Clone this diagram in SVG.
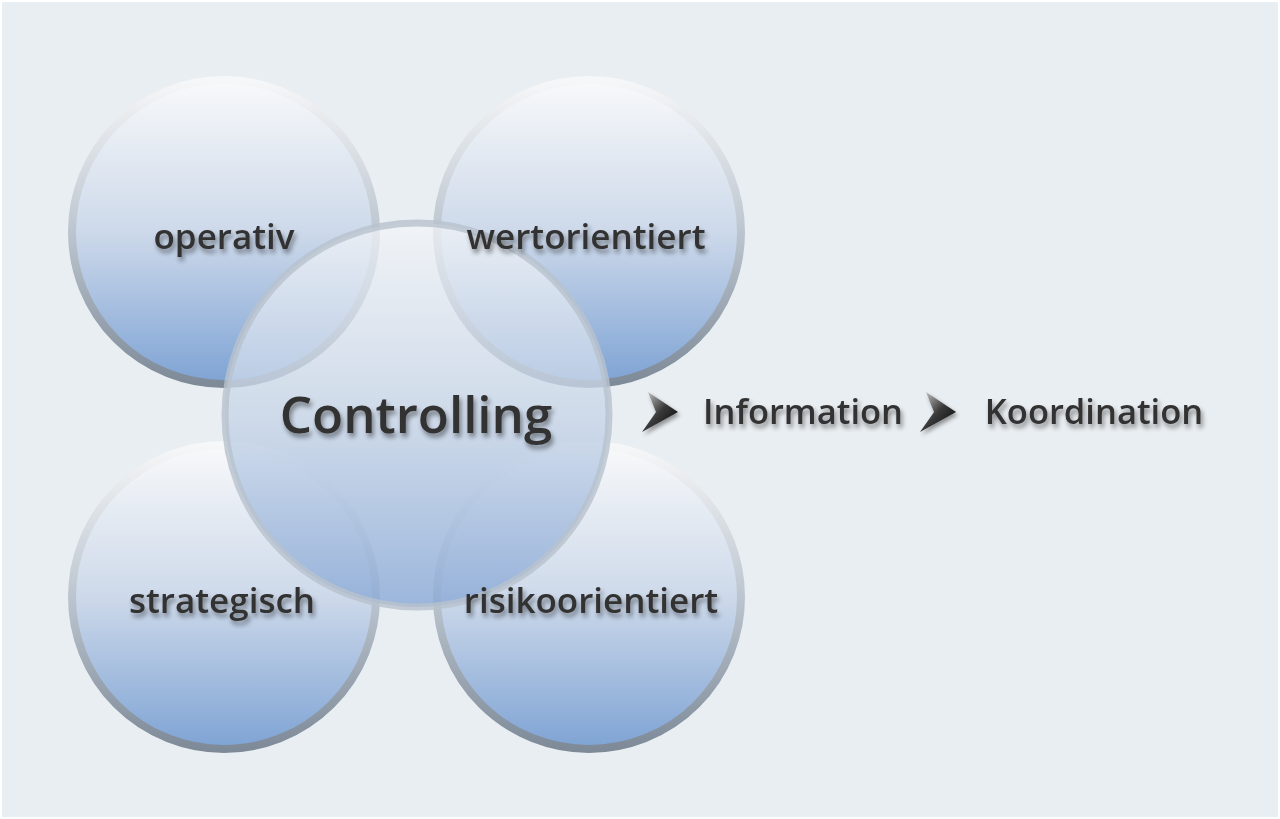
<svg xmlns="http://www.w3.org/2000/svg" width="1280" height="819" viewBox="0 0 1280 819">
<defs>
<linearGradient id="fill" x1="0" y1="0" x2="0" y2="1">
<stop offset="0" stop-color="#f8f9fa"/>
<stop offset="0.5" stop-color="#cdd9ea"/>
<stop offset="1" stop-color="#7ea3d4"/>
</linearGradient>
<linearGradient id="rim" x1="0" y1="0" x2="0" y2="1">
<stop offset="0" stop-color="#f6f7f8"/>
<stop offset="0.5" stop-color="#bcc5cf"/>
<stop offset="1" stop-color="#7e8a98"/>
</linearGradient>
<linearGradient id="cfill" x1="0" y1="0" x2="0" y2="1">
<stop offset="0" stop-color="#f3f5f8" stop-opacity="0.75"/>
<stop offset="0.5" stop-color="#c6d4e7" stop-opacity="0.75"/>
<stop offset="1" stop-color="#88a8d6" stop-opacity="0.8"/>
</linearGradient>
<linearGradient id="arr" x1="0" y1="0" x2="1" y2="1">
<stop offset="0" stop-color="#d8d8d8"/>
<stop offset="0.5" stop-color="#3a3a3a"/>
<stop offset="1" stop-color="#000"/>
</linearGradient>
<filter id="ts" x="-10%" y="-30%" width="120%" height="160%">
<feGaussianBlur in="SourceAlpha" stdDeviation="2.5"/>
<feOffset dx="2" dy="4" result="b"/>
<feComponentTransfer><feFuncA type="linear" slope="0.45"/></feComponentTransfer>
<feMerge><feMergeNode/><feMergeNode in="SourceGraphic"/></feMerge>
</filter>
<filter id="as" x="-50%" y="-50%" width="200%" height="200%">
<feGaussianBlur in="SourceAlpha" stdDeviation="2"/>
<feOffset dx="2" dy="3"/>
<feComponentTransfer><feFuncA type="linear" slope="0.4"/></feComponentTransfer>
<feMerge><feMergeNode/><feMergeNode in="SourceGraphic"/></feMerge>
</filter>
</defs>
<style>
.outer{fill:url(#fill);stroke:url(#rim);stroke-width:8}
.lbl{font-family:"Open Sans","Liberation Sans",sans-serif;font-weight:600;fill:#333333;text-anchor:middle}
</style>
<rect x="0" y="0" width="1280" height="819" fill="#ffffff"/>
<rect x="2" y="2" width="1276" height="815" fill="#e9eef2"/>
<g id="operativ">
<circle class="outer" cx="224" cy="232" r="152"/>
</g>
<g id="wertorientiert">
<circle class="outer" cx="589" cy="232" r="152"/>
</g>
<g id="strategisch">
<circle class="outer" cx="224" cy="597" r="152"/>
</g>
<g id="risikoorientiert">
<circle class="outer" cx="589" cy="597" r="152"/>
</g>
<g id="controlling">
<circle cx="417" cy="415" r="192" fill="url(#cfill)" stroke="#b8c2cd" stroke-opacity="0.8" stroke-width="7"/>
<text class="lbl" x="416" y="433" font-size="51" filter="url(#ts)">Controlling</text>
</g>
<g id="labels">
<text id="operativ-label" class="lbl" x="224" y="249" font-size="35" filter="url(#ts)">operativ</text>
<text id="wertorientiert-label" class="lbl" x="586" y="249" font-size="35" filter="url(#ts)">wertorientiert</text>
<text id="strategisch-label" class="lbl" x="222" y="613" font-size="35" filter="url(#ts)">strategisch</text>
<text id="risikoorientiert-label" class="lbl" x="591" y="613" font-size="35" filter="url(#ts)">risikoorientiert</text>
</g>
<g id="connectors">
<path d="M648,392 L678,412 L642,432 L656,412 Z" fill="url(#arr)" filter="url(#as)"/>
<path d="M926,392 L956,412 L920,432 L934,412 Z" fill="url(#arr)" filter="url(#as)"/>
</g>
<g id="information">
<text class="lbl" x="803" y="424" font-size="34.5" filter="url(#ts)">Information</text>
</g>
<g id="koordination">
<text class="lbl" x="1094" y="424" font-size="34.5" filter="url(#ts)">Koordination</text>
</g>
</svg>
